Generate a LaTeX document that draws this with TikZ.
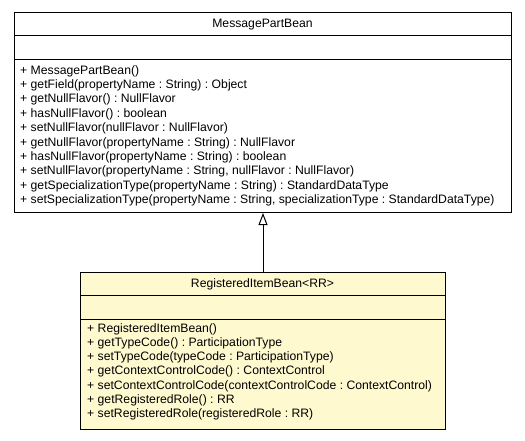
\documentclass[tikz,border=0pt]{standalone}
\usepackage{fontspec}
\setmainfont{Liberation Sans}
\usetikzlibrary{arrows.meta}
\definecolor{classfill}{RGB}{255,249,207}
\tikzset{
  classbox/.style={draw=black, line width=1pt, inner sep=0pt, anchor=north west},
  member/.style={anchor=base west, inner sep=0pt, font=\fontsize{12.2}{14}\selectfont\frenchspacing},
  title/.style={anchor=base, inner sep=0pt, font=\fontsize{12.2}{14}\selectfont\frenchspacing},
  sep/.style={draw=black, line width=1pt},
  inherit/.style={draw=black, line width=1pt, -{Triangle[open, length=12pt, width=9pt]}}
}
\begin{document}
\begin{tikzpicture}[x=1pt, y=-1pt]
\useasboundingbox (0,0) rectangle (525,440);
% superclass
\node[classbox, fill=white, minimum width=497pt, minimum height=200pt] (super) at (14,12) {};
\draw[sep] (14,35) coordinate (s1a) -- (511,35) coordinate (s1b);
\draw[sep] (14,59) coordinate (s2a) -- (511,59) coordinate (s2b);
\node[title] (supert) at (262.5,27.8) {MessagePartBean};
\node[member] (m1) at (20,74) {+ MessagePartBean()};
\node[member] (m2) at (20,88.4) {+ getField(propertyName : String) : Object};
\node[member] (m3) at (20,102.8) {+ getNullFlavor() : NullFlavor};
\node[member] (m4) at (20,117.2) {+ hasNullFlavor() : boolean};
\node[member] (m5) at (20,131.6) {+ setNullFlavor(nullFlavor : NullFlavor)};
\node[member] (m6) at (20,146) {+ getNullFlavor(propertyName : String) : NullFlavor};
\node[member] (m7) at (20,160.4) {+ hasNullFlavor(propertyName : String) : boolean};
\node[member] (m8) at (20,174.8) {+ setNullFlavor(propertyName : String, nullFlavor : NullFlavor)};
\node[member] (m9) at (20,189.2) {+ getSpecializationType(propertyName : String) : StandardDataType};
\node[member] (m10) at (20,203.6) {+ setSpecializationType(propertyName : String, specializationType : StandardDataType)};
% subclass
\node[classbox, fill=classfill, minimum width=365pt, minimum height=157pt] (sub) at (80,272) {};
\draw[sep] (80,295.5) coordinate (t1a) -- (445,295.5) coordinate (t1b);
\draw[sep] (80,319) coordinate (t2a) -- (445,319) coordinate (t2b);
\node[title] (subt) at (262.5,287.8) {RegisteredItemBean<RR>};
\node[member] (n1) at (87,332) {+ RegisteredItemBean()};
\node[member] (n2) at (87,346.3) {+ getTypeCode() : ParticipationType};
\node[member] (n3) at (87,360.6) {+ setTypeCode(typeCode : ParticipationType)};
\node[member] (n4) at (87,374.9) {+ getContextControlCode() : ContextControl};
\node[member] (n5) at (87,389.2) {+ setContextControlCode(contextControlCode : ContextControl)};
\node[member] (n6) at (87,403.5) {+ getRegisteredRole() : RR};
\node[member] (n7) at (87,417.8) {+ setRegisteredRole(registeredRole : RR)};
% generalization
\draw[inherit] (sub.north) -- (super.south);
\end{tikzpicture}
\end{document}
